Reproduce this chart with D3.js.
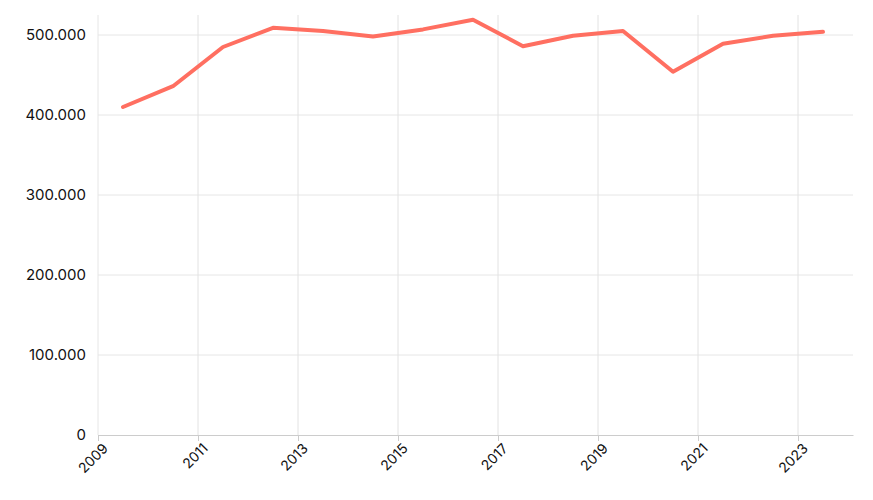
<!DOCTYPE html>
<html>
<head>
<meta charset="utf-8">
<script src="https://cdn.jsdelivr.net/npm/d3@7"></script>
<style>
  body { margin: 0; background: #fff; font-family: Inter, "Noto Sans", sans-serif; }
</style>
</head>
<body>
<div id="chart"></div>
<script>
// values (mid-year points)
const years = [2009.5, 2010.5, 2011.5, 2012.5, 2013.5, 2014.5, 2015.5, 2016.5, 2017.5, 2018.5, 2019.5, 2020.5, 2021.5, 2022.5, 2023.5];
const values = [410000, 436000, 485000, 509000, 505000, 498000, 507000, 519000, 486000, 499000, 505000, 454000, 489000, 499000, 504000];
const xTicks = [2009, 2011, 2013, 2015, 2017, 2019, 2021, 2023];
const yTicks = [0, 100000, 200000, 300000, 400000, 500000];

const W = 873, H = 500;
const margin = { top: 35, right: 20, bottom: 65, left: 98 };

const svg = d3.select("#chart").append("svg").attr("width", W).attr("height", H);

const x = d3.scaleLinear().domain([2009, 2024.1]).range([margin.left, W - margin.right]);
const y = d3.scaleLinear().domain([0, 500000]).range([H - margin.bottom, margin.top]);

const fmt = d => d3.format(",")(d).replace(/,/g, ".");

// grid
svg.append("g").selectAll("line").data(yTicks.filter(d => d > 0)).join("line")
  .attr("x1", margin.left).attr("x2", W - margin.right)
  .attr("y1", d => y(d)).attr("y2", d => y(d))
  .attr("stroke", "#e6e6e6");
svg.append("g").selectAll("line").data(xTicks.slice(1)).join("line")
  .attr("x1", d => x(d)).attr("x2", d => x(d))
  .attr("y1", margin.top - 20).attr("y2", H - margin.bottom)
  .attr("stroke", "#e2e2e2");

// y axis
svg.append("line").attr("x1", margin.left).attr("x2", margin.left)
  .attr("y1", margin.top - 20).attr("y2", H - margin.bottom).attr("stroke", "#e6e6e6");
svg.append("g").selectAll("text").data(yTicks).join("text")
  .attr("x", margin.left - 12).attr("y", d => y(d)).attr("dy", "0.35em")
  .attr("text-anchor", "end").attr("font-size", 15).attr("fill", "#111")
  .text(fmt);

// x axis
const xa = svg.append("g").attr("transform", `translate(0,${H - margin.bottom})`)
  .call(d3.axisBottom(x).tickValues(xTicks).tickFormat(d3.format("d")).tickSize(6).tickSizeOuter(0));
xa.select(".domain").attr("stroke", "#ccc");
xa.selectAll(".tick line").attr("stroke", "#ccc");
xa.selectAll("text")
  .attr("font-family", "Inter, sans-serif").attr("font-size", 14).attr("fill", "#111")
  .attr("text-anchor", "end").attr("dx", "-0.2em").attr("dy", "0.6em")
  .attr("transform", "rotate(-45)");

// line
svg.append("path").datum(years.map((yr, i) => [yr, values[i]]))
  .attr("fill", "none").attr("stroke", "#ff6f61").attr("stroke-width", 4)
  .attr("stroke-linejoin", "round").attr("stroke-linecap", "round")
  .attr("d", d3.line().x(d => x(d[0])).y(d => y(d[1])));
</script>
</body>
</html>
